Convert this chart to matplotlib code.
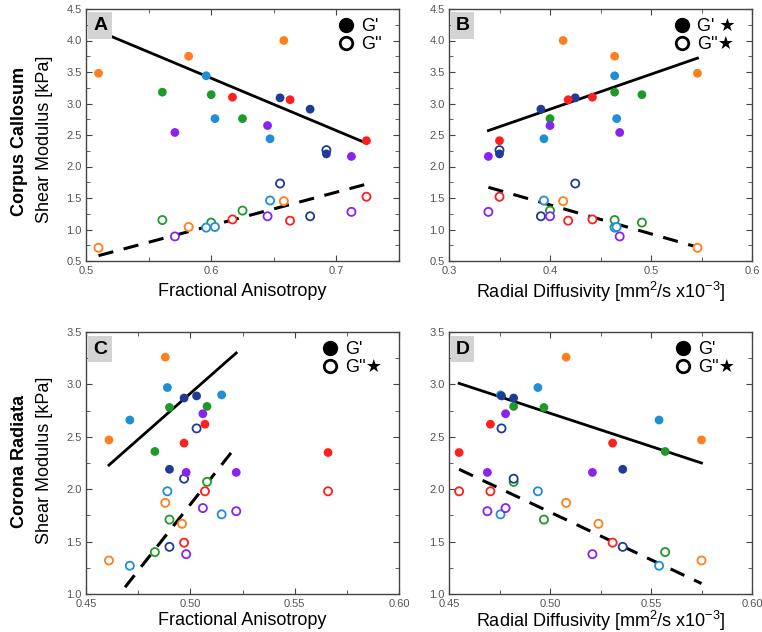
import numpy as np
import matplotlib.pyplot as plt
from matplotlib.lines import Line2D
from matplotlib.ticker import MultipleLocator

plt.rcParams["font.family"] = ["Liberation Sans", "DejaVu Sans"]
plt.rcParams["mathtext.fontset"] = "custom"
plt.rcParams["mathtext.rm"] = "Liberation Sans"
plt.rcParams["mathtext.it"] = "Liberation Sans:italic"
plt.rcParams["axes.unicode_minus"] = False

# subject colours (3 measurements each)
subj_colors = ["#ff7f1e", "#1f9a2a", "#1e8fd4", "#1f3b96", "#ff1f1f", "#8a22f0"]
colors = np.repeat(subj_colors, 3)

# Corpus Callosum
fa_cc = [0.510, 0.582, 0.658, 0.561, 0.600, 0.625, 0.596, 0.603, 0.647,
         0.655, 0.679, 0.692, 0.617, 0.663, 0.724, 0.571, 0.645, 0.712]
rd_cc = [0.546, 0.464, 0.413, 0.464, 0.491, 0.400, 0.464, 0.466, 0.394,
         0.425, 0.391, 0.350, 0.442, 0.418, 0.350, 0.469, 0.400, 0.339]
gp_cc = [3.48, 3.75, 4.00, 3.18, 3.14, 2.76, 3.44, 2.76, 2.44,
         3.09, 2.91, 2.20, 3.10, 3.06, 2.41, 2.54, 2.65, 2.16]
gpp_cc = [0.71, 1.04, 1.45, 1.15, 1.11, 1.30, 1.03, 1.04, 1.46,
          1.73, 1.21, 2.26, 1.16, 1.14, 1.52, 0.89, 1.21, 1.28]

# Corona Radiata
fa_cr = [0.461, 0.488, 0.496, 0.483, 0.490, 0.508, 0.471, 0.489, 0.515,
         0.490, 0.497, 0.503, 0.497, 0.507, 0.566, 0.498, 0.506, 0.522]
rd_cr = [0.575, 0.508, 0.524, 0.557, 0.497, 0.482, 0.554, 0.494, 0.4755,
         0.536, 0.482, 0.476, 0.531, 0.4705, 0.455, 0.521, 0.478, 0.469]
gp_cr = [2.47, 3.26, np.nan, 2.36, 2.78, 2.79, 2.66, 2.97, 2.90,
         2.19, 2.87, 2.89, 2.44, 2.62, 2.35, 2.16, 2.72, 2.16]
gpp_cr = [1.32, 1.87, 1.67, 1.40, 1.71, 2.07, 1.27, 1.98, 1.76,
          1.45, 2.10, 2.58, 1.49, 1.98, 1.98, 1.38, 1.82, 1.79]

# fitted lines (end points)
fit_a = {"x": [0.510, 0.724], "gp": [4.15, 2.37], "gpp": [0.585, 1.72]}
fit_b = {"x": [0.339, 0.546], "gp": [2.57, 3.72], "gpp": [1.67, 0.72]}
fit_c = {"x": [0.461, 0.522], "gp": [2.23, 3.30], "gpp": [0.87, 2.41]}
fit_d = {"x": [0.455, 0.575], "gp": [3.01, 2.25], "gpp": [2.19, 1.10]}

legend_texts = {"A": ("G'", "G''"), "B": ("G' \u2605", "G''\u2605"),
                "C": ("G'", "G''\u2605"), "D": ("G'", "G''\u2605")}

fig = plt.figure(figsize=(7.62, 6.32), dpi=100)
W, H = 762, 632


def make_ax(x0, x1, y0, y1):
    return fig.add_axes([x0 / W, 1 - y1 / H, (x1 - x0) / W, (y1 - y0) / H])


axA = make_ax(86, 399, 9, 261)
axB = make_ax(449, 752, 9, 261)
axC = make_ax(86, 399, 332, 594)
axD = make_ax(449, 752, 332, 594)

panels = [
    (axA, "A", fa_cc, gp_cc, gpp_cc, fit_a, (0.5, 0.75), (0.5, 4.5), 0.1, 0.05, "{x:.1f}"),
    (axB, "B", rd_cc, gp_cc, gpp_cc, fit_b, (0.3, 0.6), (0.5, 4.5), 0.1, 0.05, "{x:.1f}"),
    (axC, "C", fa_cr, gp_cr, gpp_cr, fit_c, (0.45, 0.60), (1.0, 3.5), 0.05, 0.025, "{x:.2f}"),
    (axD, "D", rd_cr, gp_cr, gpp_cr, fit_d, (0.45, 0.60), (1.0, 3.5), 0.05, 0.025, "{x:.2f}"),
]

for ax, letter, xv, gp, gpp, fit, xlim, ylim, xmaj, xmin, xfmt in panels:
    ax.scatter(xv, gpp, s=34, facecolors="white", edgecolors=colors,
               linewidths=1.3, zorder=3)
    ax.scatter(xv, gp, s=40, c=colors, edgecolors="none", zorder=3)
    ax.plot(fit["x"], fit["gp"], color="black", lw=2, zorder=2)
    ax.plot(fit["x"], fit["gpp"], color="black", lw=2.2, dashes=(5, 3.5), zorder=2)
    ax.set_xlim(*xlim)
    ax.set_ylim(*ylim)
    ax.xaxis.set_major_locator(MultipleLocator(xmaj))
    ax.xaxis.set_minor_locator(MultipleLocator(xmin))
    ax.yaxis.set_major_locator(MultipleLocator(0.5))
    ax.yaxis.set_minor_locator(MultipleLocator(0.25))
    ax.xaxis.set_major_formatter(xfmt)
    ax.yaxis.set_major_formatter("{x:.1f}")
    ax.tick_params(which="both", direction="in", top=True, right=True,
                   labelsize=8, labelcolor="#555555", color="#444444", pad=2)
    ax.tick_params(axis="x", which="major", pad=3.5)
    ax.tick_params(axis="y", which="major", pad=3)
    ax.tick_params(which="major", length=4)
    ax.tick_params(which="minor", length=3)
    for sp in ax.spines.values():
        sp.set_color("#444444")
        sp.set_linewidth(1)
    ax.text(0.045, 0.935, letter, transform=ax.transAxes, fontsize=14,
            fontweight="bold", ha="center", va="center",
            bbox=dict(boxstyle="square,pad=0.25", fc="#d3d3d3", ec="none"),
            zorder=5)
    t1, t2 = legend_texts[letter]
    handles = [
        Line2D([], [], ls="none", marker="o", ms=10, mfc="black", mec="black"),
        Line2D([], [], ls="none", marker="o", ms=9, mfc="white", mec="black", mew=2),
    ]
    ax.legend(handles, [t1, t2], loc="upper right", bbox_to_anchor=(0.975, 1.0),
              frameon=False, handletextpad=0.25, labelspacing=0.05,
              borderaxespad=0.1, handlelength=1.2,
              prop={"family": ["Liberation Sans", "DejaVu Sans"], "size": 13})

axA.set_xlabel("Fractional Anisotropy", fontsize=13, labelpad=5)
axB.set_xlabel("Radial Diffusivity [mm$^2$/s x10$^{-3}$]", fontsize=13, labelpad=3)
axC.set_xlabel("Fractional Anisotropy", fontsize=13, labelpad=2)
axD.set_xlabel("Radial Diffusivity [mm$^2$/s x10$^{-3}$]", fontsize=13, labelpad=0)

fig.text(20 / W, 1 - 141 / H, "Corpus Callosum", rotation=90, fontsize=13,
         fontweight="bold", ha="center", va="center")
fig.text(45 / W, 1 - 139 / H, "Shear Modulus [kPa]", rotation=90, fontsize=13,
         ha="center", va="center")
fig.text(20 / W, 1 - 461 / H, "Corona Radiata", rotation=90, fontsize=13,
         fontweight="bold", ha="center", va="center")
fig.text(45 / W, 1 - 460 / H, "Shear Modulus [kPa]", rotation=90, fontsize=13,
         ha="center", va="center")

fig.savefig("out.png", dpi=100)
